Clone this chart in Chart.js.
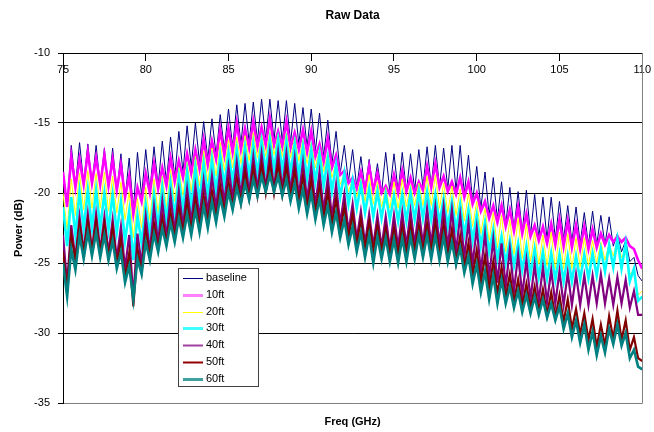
<!DOCTYPE html>
<html>
<head>
<meta charset="utf-8">
<script src="https://cdn.jsdelivr.net/npm/chart.js@4.4.1/dist/chart.umd.min.js"></script>
<style>
html,body{margin:0;padding:0;background:#fff;}
#wrap{width:654px;height:432px;}
</style>
</head>
<body>
<div id="wrap"><canvas id="c" width="654" height="432"></canvas></div>
<script>
// Frequency sample positions (GHz)
const freq = [
75,75.25,75.5,75.75, 76,76.25,76.5,76.75, 77,77.25,77.5,77.75, 78,78.25,78.5,78.75,
79,79.25,79.5,79.75, 80,80.25,80.5,80.75, 81,81.25,81.5,81.75, 82,82.25,82.5,82.75,
83,83.25,83.5,83.75, 84,84.25,84.5,84.75, 85,85.25,85.5,85.75, 86,86.25,86.5,86.75,
87,87.25,87.5,87.75, 88,88.25,88.5,88.75, 89,89.25,89.5,89.75, 90,90.25,90.5,90.75,
91,91.25,91.5,91.75, 92,92.25,92.5,92.75, 93,93.25,93.5,93.75, 94,94.25,94.5,94.75,
95,95.25,95.5,95.75, 96,96.25,96.5,96.75, 97,97.25,97.5,97.75, 98,98.25,98.5,98.75,
99,99.25,99.5,99.75, 100,100.25,100.5,100.75, 101,101.25,101.5,101.75, 102,102.25,102.5,102.75,
103,103.25,103.5,103.75, 104,104.25,104.5,104.75, 105,105.25,105.5,105.75, 106,106.25,106.5,106.75,
107,107.25,107.5,107.75, 108,108.25,108.5,108.75, 109,109.25,109.5,109.75, 110];

const baseline = [
-18.4,-21.0,-16.6,-19.5, -16.4,-19.3,-16.5,-19.4, -16.6,-19.5,-16.8,-19.7, -16.8,-19.9,-17.2,-20.4,
-17.5,-21.2,-17.1,-20.2, -16.9,-19.8,-16.7,-19.5, -16.3,-19.2,-16.0,-18.9, -15.6,-18.5,-15.2,-18.1,
-15.0,-17.8,-14.9,-17.6, -14.7,-17.3,-14.4,-16.9, -14.0,-16.7,-13.7,-16.5, -13.6,-16.4,-13.5,-16.3,
-13.3,-16.2,-13.3,-16.2, -13.4,-16.3,-13.4,-16.4, -13.6,-16.5,-13.9,-16.7, -14.0,-17.0,-14.3,-17.4,
-14.8,-17.9,-15.6,-18.6, -16.6,-19.2,-16.9,-19.6, -17.4,-19.8,-17.6,-19.9, -17.9,-20.0,-17.1,-19.9,
-17.2,-19.9,-17.1,-19.9, -17.2,-19.8,-16.9,-19.6, -16.7,-19.5,-16.6,-19.6, -16.8,-19.7,-16.6,-19.8,
-16.6,-20.1,-17.3,-20.6, -18.1,-21.1,-18.5,-21.6, -18.9,-21.9,-19.2,-22.3, -19.6,-22.6,-19.9,-22.8,
-19.8,-23.0,-20.1,-23.2, -20.3,-23.3,-20.3,-23.3, -20.6,-23.3,-20.9,-23.5, -21.0,-23.6,-21.4,-23.7,
-21.3,-23.7,-21.6,-23.7, -21.7,-23.8,-22.9,-24.2, -23.4,-24.9,-24.6,-25.9, -26.3];

const ft10 = [
-18.5,-21.0,-17.4,-19.6, -17.6,-19.4,-17.1,-19.3, -17.5,-19.4,-17.3,-19.5, -17.6,-19.8,-18.0,-20.3,
-18.8,-21.5,-19.6,-20.6, -18.6,-20.0,-17.9,-19.7, -18.2,-19.5,-17.5,-19.2, -17.7,-18.9,-17.2,-18.6,
-16.9,-18.3,-16.2,-18.0, -16.3,-17.6,-15.5,-17.3, -15.4,-17.1,-15.0,-16.9, -15.4,-16.8,-14.9,-16.7,
-15.3,-16.6,-14.7,-16.6, -15.6,-16.7,-14.9,-16.8, -15.7,-16.9,-15.5,-17.1, -15.6,-17.4,-16.5,-17.8,
-16.1,-18.2,-17.3,-18.7, -18.4,-19.3,-18.9,-19.7, -18.5,-19.8,-18.1,-19.8, -18.6,-20.0,-19.5,-20.1,
-18.7,-20.0,-18.4,-19.9, -18.9,-20.0,-19.2,-19.8, -18.1,-19.6,-17.9,-19.6, -18.8,-19.9,-19.2,-20.1,
-18.9,-20.3,-19.2,-20.8, -20.0,-21.3,-20.6,-21.8, -20.9,-22.1,-20.9,-22.4, -21.2,-22.7,-21.0,-22.9,
-21.5,-23.1,-22.3,-23.4, -22.4,-23.6,-22.2,-23.7, -21.9,-23.8,-22.0,-23.9, -22.3,-24.0,-22.4,-24.0,
-22.6,-23.9,-22.9,-23.7, -23.0,-23.5,-23.1,-23.5, -23.2,-23.8,-24.0,-24.8, -25.4];

const ft20 = [
-20.0,-22.6,-19.0,-21.6, -18.6,-21.2,-18.4,-21.1, -18.6,-21.1,-18.5,-21.3, -18.8,-21.4,-19.2,-21.9,
-19.9,-23.2,-20.4,-22.5, -19.6,-21.9,-19.0,-21.4, -18.8,-21.0,-18.3,-20.6, -18.2,-20.2,-17.8,-19.9,
-17.4,-19.5,-17.0,-19.2, -16.8,-18.8,-16.4,-18.4, -16.2,-18.2,-16.0,-17.9, -15.9,-17.7,-15.7,-17.5,
-15.8,-17.4,-15.6,-17.3, -15.8,-17.4,-15.7,-17.5, -16.0,-17.7,-16.2,-17.9, -16.4,-18.2,-16.8,-18.5,
-17.1,-18.9,-17.8,-19.4, -18.6,-19.9,-19.0,-20.3, -19.0,-20.6,-18.7,-20.8, -19.2,-21.0,-19.6,-21.1,
-19.2,-21.1,-19.0,-21.0, -19.4,-20.9,-19.3,-20.9, -18.8,-20.9,-18.7,-21.1, -19.3,-21.4,-19.5,-21.6,
-19.7,-22.0,-20.0,-22.4, -20.6,-22.9,-21.1,-23.4, -21.4,-23.9,-21.6,-24.2, -21.9,-24.4,-21.8,-24.7,
-22.2,-24.9,-22.8,-25.1, -23.0,-25.2,-22.8,-25.4, -22.8,-25.4,-22.9,-25.4, -23.2,-25.3,-23.2,-25.2,
-23.4,-25.0,-23.5,-24.8, -23.6,-24.5,-23.4,-24.6, -24.2,-25.8,-25.5,-27.3, -27.0];

const ft30 = [
-21.0,-23.8,-20.3,-23.0, -19.9,-22.6,-19.8,-22.5, -19.8,-22.5,-20.0,-22.6, -20.1,-22.8,-20.6,-23.4,
-21.3,-24.8,-21.6,-23.6, -20.8,-23.0,-20.1,-22.5, -19.6,-22.0,-19.3,-21.7, -18.9,-21.3,-18.5,-21.0,
-18.2,-20.6,-17.9,-20.2, -17.6,-19.9,-17.3,-19.5, -17.1,-19.2,-16.9,-19.0, -16.7,-18.8,-16.5,-18.6,
-16.3,-18.4,-16.2,-18.4, -16.2,-18.4,-16.3,-18.6, -16.5,-18.8,-16.7,-19.0, -16.9,-19.2,-17.2,-19.5,
-17.5,-19.9,-18.0,-20.3, -18.6,-20.8,-19.1,-21.1, -19.4,-21.4,-19.7,-21.7, -19.9,-21.8,-20.1,-21.9,
-20.2,-22.0,-20.1,-22.0, -20.0,-21.9,-19.9,-21.8, -19.9,-21.9,-20.1,-22.1, -20.4,-22.4,-20.6,-22.6,
-20.8,-23.0,-21.2,-23.4, -21.6,-23.8,-22.1,-24.2, -22.6,-24.7,-23.1,-25.0, -23.4,-25.2,-23.6,-25.5,
-23.8,-25.8,-24.0,-26.0, -24.2,-26.1,-24.3,-26.2, -24.4,-26.3,-24.5,-26.3, -24.5,-26.2,-24.4,-26.1,
-24.3,-25.9,-24.0,-25.6, -23.7,-25.3,-23.3,-25.4, -23.6,-26.3,-25.4,-27.7, -27.4];

const ft40 = [
-23.0,-26.5,-22.3,-24.7, -21.7,-24.2,-21.5,-24.1, -21.5,-24.1,-21.7,-24.3, -21.9,-24.7,-22.4,-25.4,
-23.0,-27.5,-22.9,-25.1, -21.7,-24.2,-21.0,-23.6, -20.6,-23.2,-20.2,-22.8, -19.9,-22.4,-19.7,-22.1,
-19.5,-21.8,-19.1,-21.4, -18.8,-21.1,-18.4,-20.7, -18.1,-20.4,-17.8,-20.2, -17.6,-20.0,-17.4,-19.8,
-17.2,-19.7,-17.1,-19.7, -17.1,-19.7,-17.2,-19.9, -17.5,-20.2,-17.8,-20.5, -18.1,-20.9,-18.5,-21.3,
-18.9,-21.7,-19.4,-22.2, -20.1,-22.8,-20.8,-23.3, -21.3,-23.6,-21.5,-23.8, -21.6,-23.9,-21.7,-24.0,
-21.6,-23.9,-21.4,-23.8, -21.3,-23.7,-21.2,-23.7, -21.1,-23.7,-21.0,-23.7, -21.0,-23.9,-21.2,-24.2,
-21.6,-24.6,-22.1,-25.1, -22.5,-25.6,-22.9,-26.0, -23.3,-26.4,-23.6,-26.7, -24.0,-27.0,-24.4,-27.3,
-24.8,-27.6,-25.1,-27.7, -25.3,-27.8,-25.5,-27.9, -25.6,-28.0,-25.7,-28.0, -25.8,-28.0,-25.9,-28.0,
-25.9,-27.9,-25.8,-27.9, -26.1,-28.0,-26.0,-27.9, -26.2,-28.2,-27.0,-28.7, -28.7];

const ft50 = [
-24.2,-26.8,-23.0,-24.8, -22.2,-24.3,-22.0,-24.2, -22.0,-24.3,-22.2,-24.6, -22.5,-25.1,-23.3,-26.1,
-24.3,-28.1,-24.0,-25.6, -22.7,-24.5,-22.2,-24.0, -21.8,-23.6,-21.4,-23.2, -21.0,-22.9,-20.6,-22.7,
-20.4,-22.4,-20.2,-22.1, -19.9,-21.8,-19.5,-21.4, -19.2,-21.0,-18.9,-20.7, -18.5,-20.4,-18.2,-20.2,
-18.0,-20.0,-17.9,-20.0, -17.9,-20.1,-18.1,-20.3, -18.4,-20.7,-18.8,-21.1, -19.1,-21.5,-19.5,-21.9,
-19.9,-22.3,-20.4,-22.7, -21.0,-23.2,-21.5,-23.7, -21.9,-24.0,-22.1,-24.1, -22.3,-24.2,-22.5,-24.3,
-22.5,-24.4,-22.4,-24.3, -22.3,-24.2,-22.3,-24.2, -22.2,-24.2,-22.1,-24.4, -22.2,-24.6,-22.6,-25.0,
-23.1,-25.4,-23.6,-25.9, -24.1,-26.4,-24.5,-26.9, -24.9,-27.2,-25.3,-27.5, -25.8,-27.8,-26.2,-28.1,
-26.5,-28.3,-26.7,-28.5, -26.9,-28.7,-27.1,-28.9, -27.3,-29.2,-27.6,-29.7, -28.3,-30.1,-28.6,-30.5,
-29.0,-31.0,-29.4,-30.9, -28.8,-30.4,-28.4,-30.5, -29.1,-31.2,-30.3,-31.8, -32.0];

const ft60 = [
-25.0,-27.4,-24.0,-25.5, -23.0,-24.7,-22.8,-24.5, -22.8,-24.6,-23.0,-24.8, -23.4,-25.4,-24.2,-26.4,
-25.2,-27.6,-24.7,-25.8, -23.5,-24.8,-22.9,-24.2, -22.5,-23.8,-22.1,-23.5, -21.8,-23.2,-21.5,-23.0,
-21.2,-22.8,-20.9,-22.5, -20.6,-22.1,-20.3,-21.7, -19.9,-21.2,-19.6,-20.8, -19.3,-20.5,-19.0,-20.2,
-18.8,-19.9,-18.7,-19.9, -18.8,-20.2,-19.0,-20.6, -19.3,-21.1,-19.7,-21.5, -20.0,-21.9,-20.4,-22.3,
-20.9,-22.8,-21.4,-23.2, -21.9,-23.7,-22.4,-24.2, -22.8,-24.6,-23.0,-25.0, -23.1,-24.7,-23.2,-24.9,
-23.3,-25.0,-23.2,-24.9, -23.1,-24.7,-23.0,-24.6, -23.0,-24.7,-23.0,-24.8, -23.1,-24.9,-23.5,-25.1,
-23.9,-25.7,-24.5,-26.5, -25.1,-27.1,-25.6,-27.6, -25.9,-27.9,-26.2,-27.9, -26.7,-28.2,-27.0,-28.5,
-27.3,-28.6,-27.4,-28.7, -27.6,-28.9,-27.9,-29.1, -28.1,-29.7,-28.6,-30.3, -29.1,-30.7,-29.4,-31.2,
-29.9,-31.6,-30.2,-31.4, -29.7,-30.8,-29.4,-30.9, -30.0,-31.8,-31.2,-32.4, -32.6];

const seriesNames = ['baseline','10ft','20ft','30ft','40ft','50ft','60ft'];
const seriesValues = [baseline, ft10, ft20, ft30, ft40, ft50, ft60];
const seriesColors = ['#000080','#FF00FF','#FFFF00','#00FFFF','#800080','#800000','#008080'];
const seriesWidths = [1, 2.6, 1, 2.6, 2.2, 2.2, 2.6];
const legendWidths = [1, 3, 1, 3, 2, 2, 3];
const legendColors = ['#000080','#FF80FF','#FFFF00','#40FFFF','#A040A0','#900000','#40A0A0'];
const xTicks = [75,80,85,90,95,100,105,110];
const yTicks = [-35,-30,-25,-20,-15,-10];

const FONT = "'Liberation Sans', Arial, sans-serif";
Chart.defaults.color = '#000';
Chart.defaults.font.family = FONT;

const datasets = seriesNames.map((name, i) => ({
  label: name,
  data: freq.map((f, k) => ({x: f, y: seriesValues[i][k]})),
  borderColor: seriesColors[i],
  backgroundColor: seriesColors[i],
  borderWidth: seriesWidths[i],
  borderJoinStyle: 'miter',
  pointRadius: 0,
  tension: 0,
  fill: false,
  order: seriesNames.length - i
}));

const legendPlugin = {
  id: 'boxLegend',
  afterDraw(chart) {
    const ctx = chart.ctx;
    const ca = chart.chartArea;
    ctx.save();
    ctx.strokeStyle = '#808080';
    ctx.lineWidth = 1;
    ctx.beginPath();
    ctx.moveTo(Math.round(ca.right) + 0.5, ca.top);
    ctx.lineTo(Math.round(ca.right) + 0.5, ca.bottom + 0.5);
    ctx.stroke();
    const bx = 178.5, by = 268.5, bw = 80, bh = 118;
    ctx.fillStyle = '#fff';
    ctx.fillRect(bx, by, bw, bh);
    ctx.strokeStyle = '#404040';
    ctx.strokeRect(bx, by, bw, bh);
    ctx.font = '11px ' + FONT;
    ctx.textBaseline = 'middle';
    ctx.textAlign = 'left';
    chart.data.datasets.forEach((ds, i) => {
      const y = 278 + i * 16.8;
      ctx.strokeStyle = legendColors[i];
      ctx.lineWidth = legendWidths[i];
      ctx.beginPath();
      ctx.moveTo(183, Math.round(y) + 0.5);
      ctx.lineTo(203, Math.round(y) + 0.5);
      ctx.stroke();
      ctx.fillStyle = '#000';
      ctx.fillText(ds.label, 206, y);
    });
    ctx.restore();
  }
};

new Chart(document.getElementById('c'), {
  type: 'line',
  data: { datasets },
  options: {
    responsive: false,
    animation: false,
    events: [],
    layout: { padding: { left: 0, right: 11, top: 0, bottom: 0 } },
    plugins: {
      legend: { display: false },
      tooltip: { enabled: false },
      title: {
        display: true, text: 'Raw Data', fullSize: false,
        font: { size: 12, weight: 'bold', family: FONT }, color: '#000',
        padding: { top: 8, bottom: 30.6 }
      },
      subtitle: {
        display: true, text: 'Freq (GHz)', position: 'bottom', fullSize: false,
        font: { size: 11, weight: 'bold', family: FONT }, color: '#000',
        padding: { top: 12.4, bottom: 3.4 }
      }
    },
    scales: {
      x: {
        type: 'linear',
        position: { y: -10 },
        min: 75, max: 110,
        afterBuildTicks(scale) { scale.ticks = xTicks.map(v => ({ value: v })); },
        ticks: { font: { size: 11 }, color: '#000', maxRotation: 0, autoSkip: false, padding: 3 },
        grid: { drawOnChartArea: false, drawTicks: true, tickLength: 7, color: '#000' },
        border: { display: true, color: '#000', width: 1 }
      },
      y: {
        position: 'left',
        min: -35, max: -10,
        afterBuildTicks(scale) { scale.ticks = yTicks.map(v => ({ value: v })); },
        afterFit(scale) { scale.width = 63; },
        ticks: { font: { size: 11 }, color: '#000', padding: 8 },
        grid: {
          color: (c) => (c.tick && c.tick.value === -35) ? '#808080' : '#000',
          tickColor: '#000', tickLength: 5, lineWidth: 1
        },
        border: { display: true, color: '#000', width: 1 },
        title: {
          display: true, text: 'Power (dB)',
          font: { size: 11, weight: 'bold', family: FONT }, color: '#000',
          padding: { top: 12.4, bottom: 0 }
        }
      }
    }
  },
  plugins: [legendPlugin]
});
</script>
</body>
</html>
